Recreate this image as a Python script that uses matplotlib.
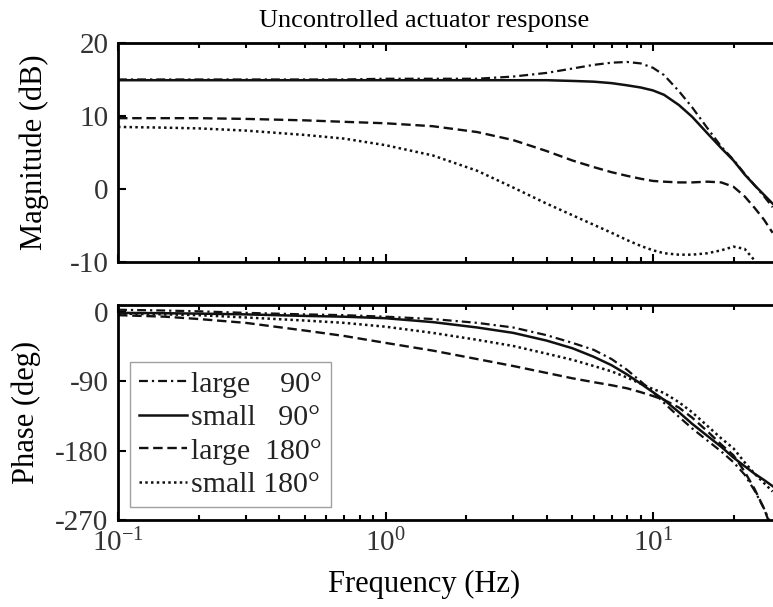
"""Bode plot of the uncontrolled actuator response (magnitude + phase)."""

import matplotlib

matplotlib.use("Agg")
import matplotlib.pyplot as plt  # noqa: E402
import numpy as np  # noqa: E402

plt.rcParams["font.family"] = ["Liberation Serif", "DejaVu Serif"]
plt.rcParams["mathtext.fontset"] = "stix"
plt.rcParams["axes.unicode_minus"] = False

# 频率点 (Hz)
freq = [0.1, 0.15, 0.2, 0.3, 0.5, 0.7, 1, 1.5, 2.2, 3, 4, 5, 6, 7, 8, 9,
        10, 11, 12.5, 14, 16, 18, 20, 22, 24, 26, 28]

# 幅值 (dB)
mag_large_90 = [15.0, 15.0, 15.0, 15.0, 15.0, 15.0, 15.1, 15.1, 15.1, 15.4,
                15.9, 16.5, 17.0, 17.3, 17.4, 17.2, 16.6, 15.6, 13.4, 11.2,
                8.3, 5.8, 4.0, 2.1, 0.5, -1.0, -2.5]
mag_small_90 = [14.9, 14.9, 14.9, 14.9, 14.9, 14.9, 14.9, 14.9, 14.9, 14.9,
                14.9, 14.8, 14.7, 14.5, 14.2, 13.9, 13.5, 12.9, 11.5, 9.9,
                7.6, 5.6, 3.9, 2.0, 0.5, -0.8, -2.0]
mag_large_180 = [9.7, 9.7, 9.7, 9.6, 9.4, 9.2, 9.0, 8.6, 7.8, 6.7, 5.2, 3.9,
                 3.0, 2.3, 1.8, 1.4, 1.1, 1.0, 0.9, 0.9, 1.0, 0.9, 0.3, -1.0,
                 -2.6, -4.2, -6.0]
mag_small_180 = [8.5, 8.4, 8.3, 8.0, 7.4, 6.9, 6.0, 4.6, 2.5, 0.2, -2.0, -3.6,
                 -4.9, -6.0, -7.0, -7.8, -8.4, -8.8, -9.0, -9.0, -8.8, -8.4,
                 -7.9, -8.2, -9.8, -12.0, -14.0]

# 相位 (deg)
ph_large_90 = [3, 2, 1, -1, -3, -4, -6, -9, -14, -20, -30, -40, -49, -61, -75,
               -90, -104, -118, -136, -151, -167, -181, -195, -211, -232,
               -255, -280]
ph_small_90 = [-1, -1.5, -2, -3, -5, -6, -8, -13, -20, -27, -37, -47, -58, -69,
               -81, -93, -104, -114, -130, -145, -161, -175, -189, -200, -210,
               -218, -226]
ph_large_180 = [-4, -6, -9, -14, -24, -31, -40, -50, -61, -70, -79, -86, -91,
                -95, -99, -104, -109, -114, -124, -137, -155, -172, -186, -207,
                -230, -255, -285]
ph_small_180 = [-2, -3, -4, -7, -11, -14, -19, -27, -36, -44, -54, -62, -70,
                -77, -85, -93, -100, -105, -117, -130, -148, -164, -177, -195,
                -210, -222, -233]

labels = ["large    90°", "small   90°", "large  180°", "small 180°"]
mags = [mag_large_90, mag_small_90, mag_large_180, mag_small_180]
phases = [ph_large_90, ph_small_90, ph_large_180, ph_small_180]
dash_styles = [(0, (4, 1.8, 1, 1.8)), "-", (0, (4, 2)), (0, (1, 1.3))]
widths = [1.6, 1.8, 1.7, 1.8]

fig = plt.figure(figsize=(7.73, 6.07), dpi=100)
ax_mag = fig.add_axes([0.1527, 0.5684, 0.8473, 0.3608])
ax_ph = fig.add_axes([0.1527, 0.1433, 0.8473, 0.3540])

f = np.array(freq)
for m, p, ls, lw, lab in zip(mags, phases, dash_styles, widths, labels):
    ax_mag.plot(f, m, color="#111111", linestyle=ls, linewidth=lw)
    ax_ph.plot(f, p, color="#111111", linestyle=ls, linewidth=lw, label=lab)

for ax in (ax_mag, ax_ph):
    ax.set_xscale("log")
    ax.set_xlim(0.1, 28.1)
    for s in ax.spines.values():
        s.set_linewidth(2.0)
    ax.spines["right"].set_visible(False)
    ax.tick_params(which="both", direction="in", top=True, right=False,
                   labelsize=21, labelcolor="#333333", width=1.5)
    ax.tick_params(which="major", length=6)
    ax.tick_params(which="minor", length=3.5)
    ax.tick_params(axis="y", pad=7)
    ax.tick_params(axis="x", pad=6)

ax_mag.set_ylim(-10, 20)
ax_mag.set_yticks([-10, 0, 10, 20])
ax_mag.tick_params(axis="x", which="both", labelbottom=False)
ax_mag.set_ylabel("Magnitude (dB)", fontsize=22)
ax_mag.yaxis.set_label_coords(-0.106, 0.5)

ax_ph.set_ylim(-270, 9)
ax_ph.set_yticks([-270, -180, -90, 0])
ax_ph.set_ylabel("Phase (deg)", fontsize=22)
ax_ph.yaxis.set_label_coords(-0.117, 0.5)

leg = ax_ph.legend(loc="upper left", bbox_to_anchor=(0.018, 0.735),
                   borderaxespad=0, fontsize=21.5, frameon=True, fancybox=False,
                   handlelength=1.6, handletextpad=0.15, labelspacing=0.22,
                   borderpad=0.3)
leg.get_frame().set_edgecolor("#888888")
leg.get_frame().set_linewidth(1.0)
for t in leg.get_texts():
    t.set_color("#222222")

fig.text(0.5485, 0.9555, "Uncontrolled actuator response", fontsize=19,
         ha="center", va="baseline")
fig.text(0.5485, 0.0247, "Frequency (Hz)", fontsize=22, ha="center",
         va="baseline")

fig.savefig("out.png", dpi=100)
plt.close(fig)
